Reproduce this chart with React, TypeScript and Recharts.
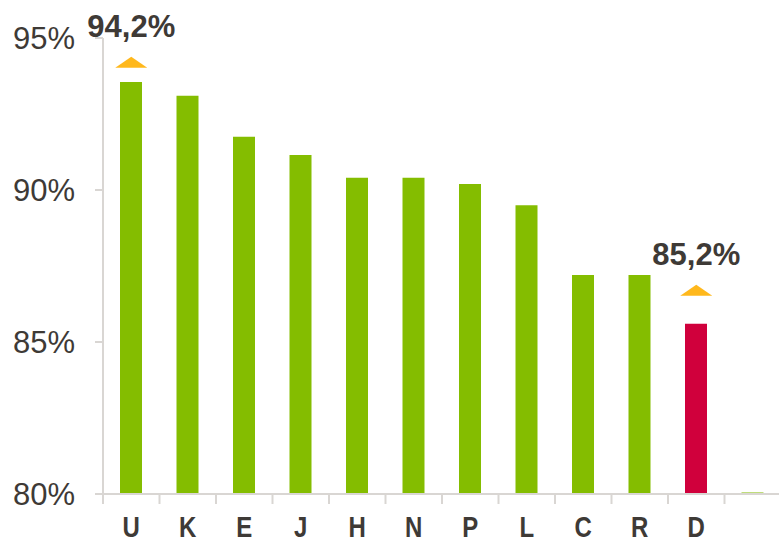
import React from "react";
import { ComposedChart, Bar, Line, XAxis, YAxis, Cell } from "recharts";

const CATEGORIES = ["U", "K", "E", "J", "H", "N", "P", "L", "C", "R", "D", ""];
const VALUES = [93.55, 93.1, 91.75, 91.15, 90.4, 90.4, 90.2, 89.5, 87.2, 87.2, 85.6, 80.05];
const TARGETS: (number | null)[] = [94.2, null, null, null, null, null, null, null, null, null, 86.7, null];
const TARGET_LABELS = ["94,2%", "", "", "", "", "", "", "", "", "", "85,2%", ""];
const Y_TICKS = [80, 85, 90, 95];

const GREEN = "#84bd00";
const RED = "#d0003c";
const ORANGE = "#ffb81c";
const AXIS = "#d9d6d3";
const TEXT = "#3e3a36";

const data = CATEGORIES.map((name, i) => ({
  name,
  value: VALUES[i],
  target: TARGETS[i],
  label: TARGET_LABELS[i],
}));

function TargetDot(props: any) {
  const { cx, cy, payload } = props;
  if (cx == null || cy == null || payload?.target == null) return <g />;
  return (
    <g>
      <polygon points={`${cx - 16},${cy + 5.5} ${cx + 16},${cy + 5.5} ${cx},${cy - 5.5}`} fill={ORANGE} />
      <text
        x={cx}
        y={cy - 25}
        textAnchor="middle"
        fontFamily="'Liberation Sans', Arial, sans-serif"
        fontWeight="bold"
        fontSize={31}
        fill={TEXT}
      >
        {payload.label}
      </text>
    </g>
  );
}

function XTick(props: any) {
  const { x, y, payload } = props;
  const off = payload?.offset ?? 28;
  return (
    <g>
      <line x1={x - off} x2={x - off} y1={y} y2={y + 10} stroke={AXIS} strokeWidth={2} />
      <text
        transform={`translate(${x}, ${y + 43}) scale(0.8, 1)`}
        textAnchor="middle"
        fontFamily="'Liberation Sans', Arial, sans-serif"
        fontWeight="bold"
        fontSize={30}
        fill={TEXT}
      >
        {payload.value}
      </text>
    </g>
  );
}

export default function App() {
  return (
    <div style={{ position: "fixed", left: 0, top: 0, width: 779, height: 543, overflow: "hidden", background: "#fff" }}>
      <ComposedChart width={781} height={543} data={data} margin={{ top: 38, right: 0, left: 0, bottom: 0 }}>
        <XAxis
          dataKey="name"
          height={49}
          axisLine={{ stroke: AXIS, strokeWidth: 2 }}
          tickLine={false}
          tickSize={0}
          tickMargin={0}
          interval={0}
          tick={<XTick />}
        />
        <YAxis
          width={103}
          domain={[80, 95]}
          ticks={Y_TICKS}
          tickFormatter={(v) => `${v}%`}
          axisLine={{ stroke: AXIS, strokeWidth: 2 }}
          tickLine={{ stroke: AXIS, strokeWidth: 2 }}
          tickSize={8}
          tickMargin={20}
          tick={{ fontSize: 31, fill: TEXT, fontFamily: "'Liberation Sans', Arial, sans-serif" }}
        />
        <Bar dataKey="value" barSize={22} isAnimationActive={false}>
          {data.map((d, i) => (
            <Cell key={i} fill={d.name === "D" ? RED : GREEN} />
          ))}
        </Bar>
        <Line dataKey="target" stroke="none" dot={<TargetDot />} activeDot={false} isAnimationActive={false} />
      </ComposedChart>
    </div>
  );
}
